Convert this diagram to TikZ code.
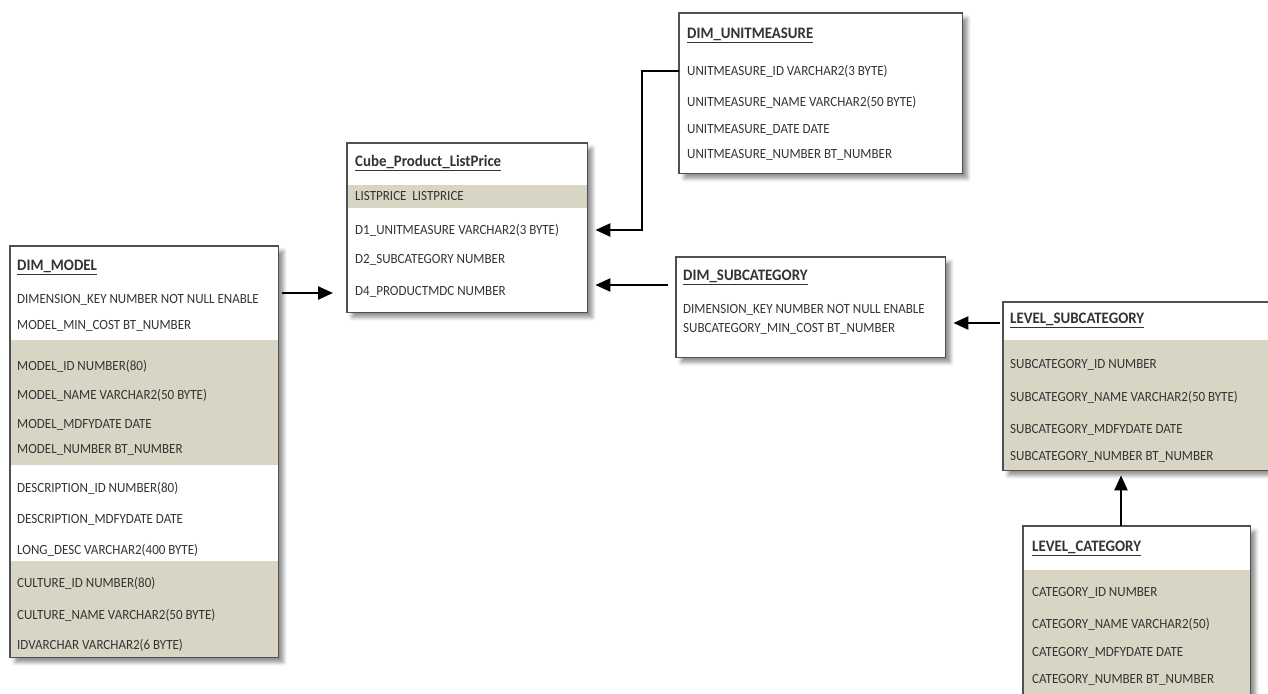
\documentclass[tikz,border=0pt]{standalone}
\usepackage{fontspec}
\setmainfont[FakeStretch=0.93]{Carlito}
\usetikzlibrary{shadows.blur,arrows.meta}
\definecolor{band}{RGB}{217,213,196}
\definecolor{txt}{RGB}{52,52,52}
\definecolor{bord}{RGB}{80,80,80}
\tikzset{
  tbl/.style={fill=white, anchor=north west, inner sep=0pt, draw=none,
    blur shadow={shadow xshift=5pt, shadow yshift=-5pt, shadow blur radius=4pt, shadow opacity=45}},
  bandfill/.style={fill=band},
  frame/.style={draw=bord, line width=1.3pt},
  row/.style={anchor=west, inner sep=0pt, text=txt, font=\fontsize{14}{16}\selectfont},
  ttl/.style={anchor=west, inner sep=0pt, text=black!80, font=\fontsize{16}{18}\selectfont\bfseries},
  arr/.style={line width=2.4pt, black, -{Triangle[length=15pt,width=13pt]}}
}
\begin{document}
\begin{tikzpicture}[x=1pt,y=-1pt]
\path[use as bounding box] (0,0) rectangle (1268,693);
\clip (0,0) rectangle (1268,693);

% ---------- DIM_MODEL
\node[tbl, minimum width=268pt, minimum height=411pt] (model) at (10,246) {};
\fill[bandfill] (10,340) rectangle (278,465);
\fill[bandfill] (10,561) rectangle (278,657);
\draw[frame] (model.north west) rectangle (model.south east);
\node[ttl] (mt) at (17,267) {\underline{DIM\_MODEL}};
\node[row] (m1) at (17,300) {DIMENSION\_KEY NUMBER NOT NULL ENABLE};
\node[row] (m2) at (17,326) {MODEL\_MIN\_COST BT\_NUMBER};
\node[row] (m3) at (17,366) {MODEL\_ID NUMBER(80)};
\node[row] (m4) at (17,395) {MODEL\_NAME VARCHAR2(50 BYTE)};
\node[row] (m5) at (17,425) {MODEL\_MDFYDATE DATE};
\node[row] (m6) at (17,450) {MODEL\_NUMBER BT\_NUMBER};
\node[row] (m7) at (17,488) {DESCRIPTION\_ID NUMBER(80)};
\node[row] (m8) at (17,520) {DESCRIPTION\_MDFYDATE DATE};
\node[row] (m9) at (17,550) {LONG\_DESC VARCHAR2(400 BYTE)};
\node[row] (m10) at (17,583) {CULTURE\_ID NUMBER(80)};
\node[row] (m11) at (17,615) {CULTURE\_NAME VARCHAR2(50 BYTE)};
\node[row] (m12) at (17,645) {IDVARCHAR VARCHAR2(6 BYTE)};

% ---------- Cube_Product_ListPrice
\node[tbl, minimum width=240pt, minimum height=169pt] (cube) at (347,143) {};
\fill[bandfill] (347,185) rectangle (587,208);
\draw[frame] (cube.north west) rectangle (cube.south east);
\node[ttl] (ct) at (355,163) {\underline{Cube\_Product\_ListPrice}};
\node[row] (c1) at (355,196) {LISTPRICE\ \ LISTPRICE};
\node[row] (c2) at (355,230) {D1\_UNITMEASURE VARCHAR2(3 BYTE)};
\node[row] (c3) at (355,260) {D2\_SUBCATEGORY NUMBER};
\node[row] (c4) at (355,292) {D4\_PRODUCTMDC NUMBER};

% ---------- DIM_UNITMEASURE
\node[tbl, minimum width=283pt, minimum height=160pt] (unit) at (679,13) {};
\draw[frame] (unit.north west) rectangle (unit.south east);
\node[ttl] (ut) at (687,35) {\underline{DIM\_UNITMEASURE}};
\node[row] (u1) at (687,71) {UNITMEASURE\_ID VARCHAR2(3 BYTE)};
\node[row] (u2) at (687,102) {UNITMEASURE\_NAME VARCHAR2(50 BYTE)};
\node[row] (u3) at (687,130) {UNITMEASURE\_DATE DATE};
\node[row] (u4) at (687,155) {UNITMEASURE\_NUMBER BT\_NUMBER};

% ---------- DIM_SUBCATEGORY
\node[tbl, minimum width=269pt, minimum height=100pt] (sub) at (676,257) {};
\draw[frame] (sub.north west) rectangle (sub.south east);
\node[ttl] (st) at (683,277) {\underline{DIM\_SUBCATEGORY}};
\node[row] (s1) at (683,310) {DIMENSION\_KEY NUMBER NOT NULL ENABLE};
\node[row] (s2) at (683,329) {SUBCATEGORY\_MIN\_COST BT\_NUMBER};

% ---------- LEVEL_SUBCATEGORY
\node[tbl, minimum width=272pt, minimum height=168pt] (lsub) at (1003,302) {};
\fill[bandfill] (1003,340) rectangle (1275,470);
\draw[frame] (lsub.north west) rectangle (lsub.south east);
\node[ttl] (lst) at (1010,320) {\underline{LEVEL\_SUBCATEGORY}};
\node[row] (ls1) at (1010,365) {SUBCATEGORY\_ID NUMBER};
\node[row] (ls2) at (1010,397) {SUBCATEGORY\_NAME VARCHAR2(50 BYTE)};
\node[row] (ls3) at (1010,430) {SUBCATEGORY\_MDFYDATE DATE};
\node[row] (ls4) at (1010,457) {SUBCATEGORY\_NUMBER BT\_NUMBER};

% ---------- LEVEL_CATEGORY
\node[tbl, minimum width=227pt, minimum height=174pt] (lcat) at (1023,526) {};
\fill[bandfill] (1023,570) rectangle (1250,700);
\draw[frame] (lcat.north west) rectangle (lcat.south east);
\node[ttl] (lct) at (1032,548) {\underline{LEVEL\_CATEGORY}};
\node[row] (lc1) at (1032,593) {CATEGORY\_ID NUMBER};
\node[row] (lc2) at (1032,624) {CATEGORY\_NAME VARCHAR2(50)};
\node[row] (lc3) at (1032,653) {CATEGORY\_MDFYDATE DATE};
\node[row] (lc4) at (1032,680) {CATEGORY\_NUMBER BT\_NUMBER};

% ---------- connectors
\coordinate (ya) at (0,293);
\coordinate (yb) at (0,285);
\coordinate (yc) at (0,323);
\coordinate (xd) at (1121,0);
\draw[arr, shorten <=4pt, shorten >=14pt] (model.east |- ya) -- (cube.west |- ya);
\draw[arr, shorten >=8pt] (unit.west |- u1) -- ++(-37,0) |- (cube.east |- c2);
\draw[arr, shorten <=8pt, shorten >=8pt] (sub.west |- yb) -- (cube.east |- yb);
\draw[arr, shorten <=3pt, shorten >=8pt] (lsub.west |- yc) -- (sub.east |- yc);
\draw[arr, shorten >=5pt] (lcat.north -| xd) -- (lsub.south -| xd);
\end{tikzpicture}
\end{document}
